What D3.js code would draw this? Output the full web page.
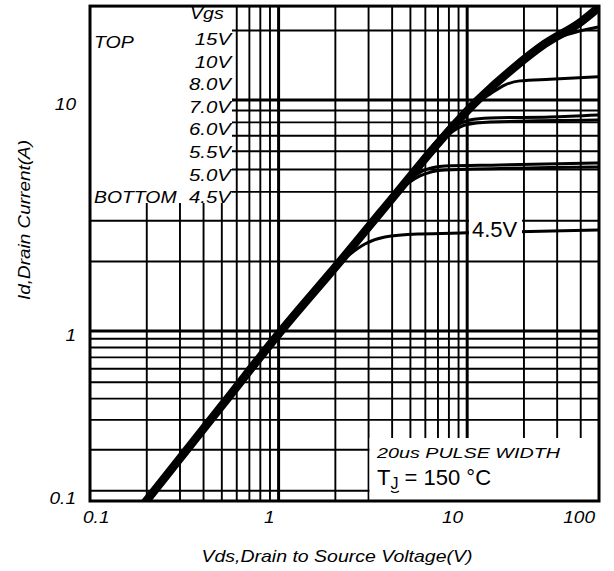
<!DOCTYPE html>
<html>
<head>
<meta charset="utf-8">
<script src="https://cdn.jsdelivr.net/npm/d3@7"></script>
<style>
  body { margin: 0; background: #fff; }
  text { font-family: "Liberation Sans", Arial, sans-serif; fill: #000; }
  .it { font-style: italic; }
</style>
</head>
<body>
<div id="chart"></div>
<script>
// output characteristics at Tj = 150C
var vgsLabels = ["15V", "10V", "8.0V", "7.0V", "6.0V", "5.5V", "5.0V", "4.5V"];

// 15V curve, [Vds, Id]; the other gate voltages ride on it until they bend off
var curve15 = [[0.19, 0.094], [0.5, 0.364], [1.03, 1.0], [2.15, 2.03], [3.45, 3.24],
               [11.4, 10], [17.9, 13.9], [25.8, 17.5], [40.1, 21.8], [49.4, 25.0]];
var tail10 = [[22.9, 16.1], [31.0, 18.7], [39.6, 19.9], [49.4, 20.7]];
var tail8  = [[10.3, 9.23], [13.2, 10.6], [15.8, 11.6], [19.0, 12.1], [27.5, 12.3], [49.4, 12.6]];
var tail7  = [[8.61, 7.68], [10.3, 8.19], [13.2, 8.36], [27.5, 8.44], [49.4, 8.61]];
var tail6  = [[7.91, 7.08], [9.73, 7.79], [13.2, 8.03], [49.4, 8.19]];
var tail55 = [[4.68, 4.33], [5.97, 4.98], [7.62, 5.18], [14.9, 5.23], [49.4, 5.34]];
var tail5  = [[4.30, 4.0], [5.62, 4.69], [7.62, 4.98], [49.4, 5.13]];
var tail45 = [[2.07, 1.95], [2.39, 2.15], [2.87, 2.38], [3.66, 2.55], [5.62, 2.63], [9.98, 2.66], [49.4, 2.74]];

var xGrid = [0.2, 0.3, 0.4, 0.5, 0.6, 0.7, 0.8, 0.9, 1, 2, 3, 4, 5, 6, 7, 8, 9, 10, 20, 30, 40];
var yGrid = [0.115, 0.2, 0.3, 0.4, 0.5, 0.6, 0.7, 0.8, 0.9, 1, 2, 3, 4, 5, 6, 7, 8, 9, 10, 20];
var xTicks = [0.1, 1, 10, 50];
var xTickLabels = ["0.1", "1", "10", "100"];
var yTicks = [0.1, 1, 10];
var yTickLabels = ["0.1", "1", "10"];

var width = 614, height = 571;
var svg = d3.select("#chart").append("svg")
  .attr("width", width)
  .attr("height", height);

var x = d3.scaleLog().domain([0.1, 50]).range([90, 599]);
// the scan has uneven decades on Id (0.1-1 is shorter than 1-10)
var yLog = d3.scaleLinear().domain([-1, 0, 1]).range([501, 331, 100]);
function y(v) { return yLog(Math.log10(v)); }
var yTop = 25.5;

// (window.top is read-only, so no "top" here)
var pl = x(0.1), pr = x(50), pt = y(yTop), pb = y(0.1);

function stretch(sel, k) {
  sel.each(function() {
    var w = this.getComputedTextLength();
    d3.select(this).attr("textLength", w * k).attr("lengthAdjust", "spacingAndGlyphs");
  });
}

// grid
var isMajor = function(v) { return v == 1 || v == 10; };
svg.append("g").selectAll("line").data(xGrid).enter().append("line")
  .attr("x1", function(d) { return x(d); })
  .attr("x2", function(d) { return x(d); })
  .attr("y1", pt).attr("y2", pb)
  .style("stroke", "#000")
  .style("stroke-width", function(d) { return isMajor(d) ? 3 : 1.9; });
svg.append("g").selectAll("line").data(yGrid).enter().append("line")
  .attr("x1", pl).attr("x2", pr)
  .attr("y1", function(d) { return y(d); })
  .attr("y2", function(d) { return y(d); })
  .style("stroke", "#000")
  .style("stroke-width", function(d) { return isMajor(d) ? 3 : 1.9; });

// blank areas for the legend and the test note
svg.append("rect")
  .attr("x", pl).attr("y", pt)
  .attr("width", 232 - pl).attr("height", 203 - pt)
  .attr("fill", "#fff");
svg.append("rect")
  .attr("x", 369.5).attr("y", 438)
  .attr("width", pr - 369.5).attr("height", pb - 438)
  .attr("fill", "#fff");

svg.append("clipPath").attr("id", "plotClip")
  .append("rect")
  .attr("x", pl).attr("y", pt)
  .attr("width", pr - pl).attr("height", pb - pt);

// curves
var tails = [null, tail10, tail8, tail7, tail6, tail55, tail5, tail45];
var curves = tails.map(function(t) {
  if (!t) return curve15;
  return curve15.filter(function(p) { return p[0] < t[0][0]; }).concat(t);
});

var line = d3.line()
  .x(function(d) { return x(d[0]); })
  .y(function(d) { return y(d[1]); })
  .curve(d3.curveMonotoneX);

var curveG = svg.append("g").attr("clip-path", "url(#plotClip)");
curveG.selectAll("path").data(curves.slice(1)).enter().append("path")
  .attr("d", line)
  .attr("fill", "none")
  .style("stroke", "#000")
  .style("stroke-width", 3);
curveG.append("path")
  .attr("d", line(curves[0]))
  .attr("fill", "none")
  .style("stroke", "#000")
  .style("stroke-width", 8.5)
  .style("stroke-linecap", "round");

// 4.5V tag on its curve
var tagX = x(9.98) + 2, tagY = y(2.74);
svg.append("rect")
  .attr("x", tagX).attr("y", tagY - 16)
  .attr("width", 53).attr("height", 26)
  .attr("fill", "#fff");
svg.append("text")
  .attr("x", tagX + 3).attr("y", tagY + 7)
  .style("font-size", "22px")
  .text(vgsLabels[7]);

// legend
svg.append("clipPath").attr("id", "legClip")
  .append("rect")
  .attr("x", pl).attr("y", 0)
  .attr("width", 240 - pl).attr("height", 203);
var leg = svg.append("g").attr("clip-path", "url(#legClip)");
leg.append("text").attr("class", "it")
  .attr("x", 190).attr("y", 19)
  .style("font-size", "17px")
  .text("Vgs").call(stretch, 1.15);
leg.append("text").attr("class", "it")
  .attr("x", 94).attr("y", 48)
  .style("font-size", "17px")
  .text("TOP").call(stretch, 1.15);
leg.append("text").attr("class", "it")
  .attr("x", 94).attr("y", 203)
  .style("font-size", "17px")
  .text("BOTTOM").call(stretch, 1.14);
leg.selectAll("text.vg").data(vgsLabels).enter().append("text")
  .attr("class", "it vg")
  .attr("x", 231)
  .attr("y", function(d, i) { return 45 + i * 22.6; })
  .attr("text-anchor", "end")
  .style("font-size", "17px")
  .text(function(d) { return d; })
  .call(stretch, 1.2);

// note box
svg.append("text").attr("class", "it")
  .attr("x", 377).attr("y", 458)
  .style("font-size", "15.5px")
  .text("20us PULSE WIDTH")
  .attr("textLength", 183).attr("lengthAdjust", "spacingAndGlyphs");
var tj = svg.append("text")
  .attr("x", 377).attr("y", 485)
  .style("font-size", "22px");
tj.append("tspan").text("T");
tj.append("tspan").attr("dy", 4).style("font-size", "16px").text("J");
tj.append("tspan").attr("dy", -4).text(" = 150 \u00B0C");
svg.append("path")
  .attr("d", "M391,491 Q395,494 399,491")
  .attr("fill", "none").style("stroke", "#000").style("stroke-width", 1.2);

// tick labels
svg.selectAll("text.xt").data(xTicks).enter().append("text")
  .attr("class", "it xt")
  .attr("x", function(d, i) { return i == 0 ? x(d) - 7 : x(d) - 4; })
  .attr("y", 523)
  .attr("text-anchor", function(d, i) { return i == 0 ? "start" : "end"; })
  .style("font-size", "17px")
  .text(function(d, i) { return xTickLabels[i]; })
  .call(stretch, 1.12);
svg.selectAll("text.yt").data(yTicks).enter().append("text")
  .attr("class", "it yt")
  .attr("x", 76)
  // bottom label sits up against the frame
  .attr("y", function(d) { return Math.min(y(d) + 10, 504); })
  .attr("text-anchor", "end")
  .style("font-size", "17px")
  .text(function(d, i) { return yTickLabels[i]; })
  .call(stretch, 1.12);

// axis titles
svg.append("text").attr("class", "it")
  .attr("x", 337).attr("y", 562)
  .attr("text-anchor", "middle")
  .style("font-size", "17px")
  .text("Vds,Drain to Source Voltage(V)")
  .attr("textLength", 271).attr("lengthAdjust", "spacingAndGlyphs");
svg.append("text").attr("class", "it")
  .attr("transform", "translate(30,220) rotate(-90)")
  .attr("text-anchor", "middle")
  .style("font-size", "17px")
  .text("Id,Drain Current(A)")
  .attr("textLength", 160).attr("lengthAdjust", "spacingAndGlyphs");

// frame
svg.append("rect")
  .attr("x", pl).attr("y", pt)
  .attr("width", pr - pl).attr("height", pb - pt)
  .attr("fill", "none")
  .style("stroke", "#000")
  .style("stroke-width", 3);
</script>
</body>
</html>
